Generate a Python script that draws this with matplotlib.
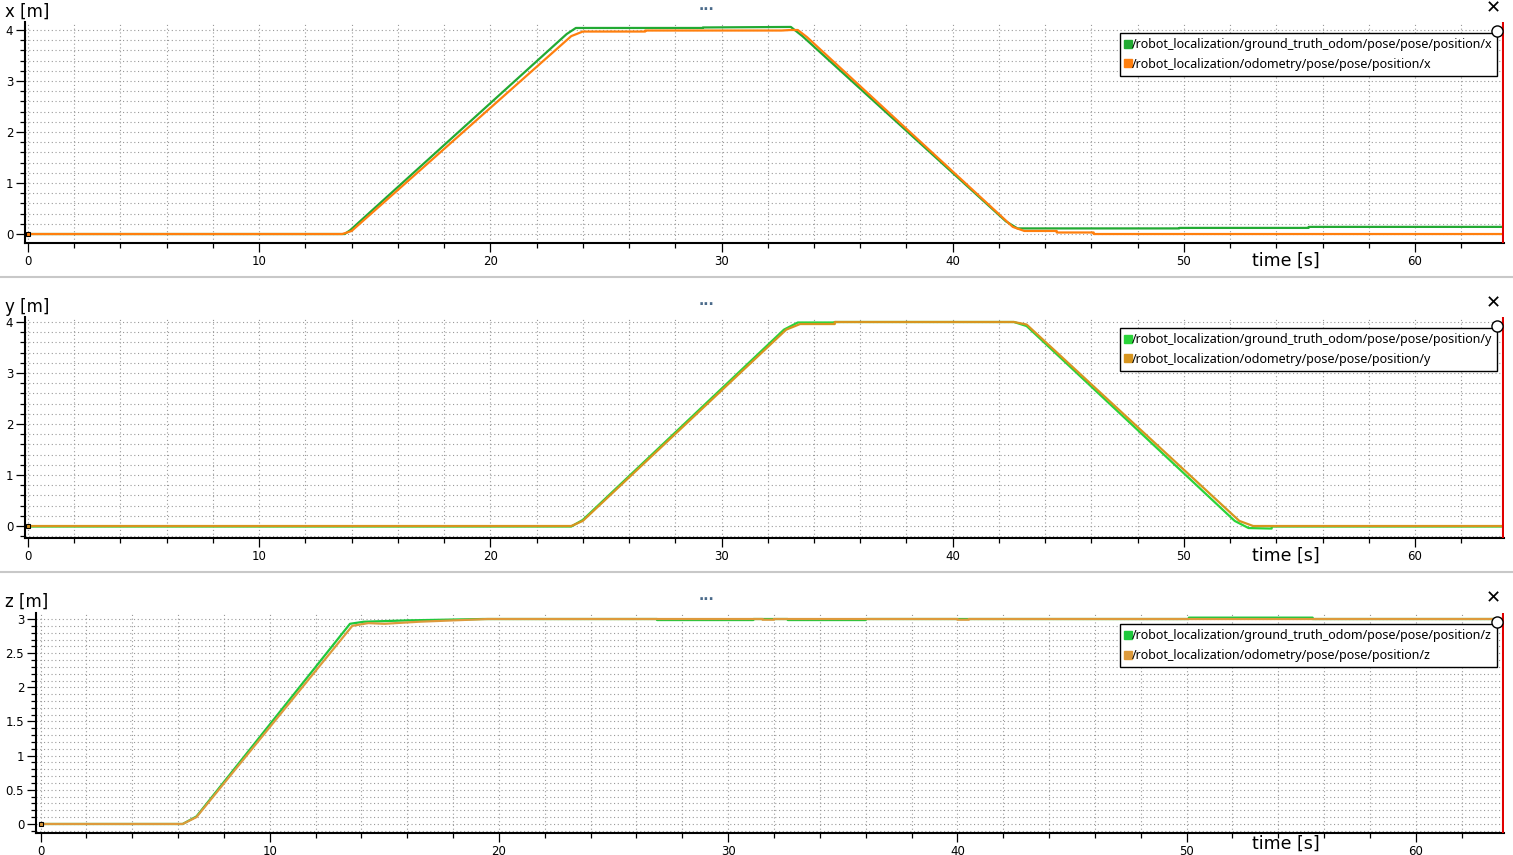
import numpy as np
import matplotlib.pyplot as plt
from matplotlib.lines import Line2D
from matplotlib.ticker import MultipleLocator

plt.rcParams['font.family'] = ['DejaVu Sans']
plt.rcParams['lines.scale_dashes'] = False

W, H = 1513, 855

# ---- data (time [s], position [m]) ----
t_x_gt = [0, 13.7, 13.95, 23.3, 23.7, 29.2, 29.2, 33.0, 33.5, 42.3, 42.8, 49.8, 49.8, 55.4, 55.4, 63.9]
x_gt = [0, 0, 0.08, 3.92, 4.04, 4.04, 4.05, 4.06, 3.88, 0.25, 0.11, 0.11, 0.12, 0.12, 0.14, 0.14]
t_x_od = [0, 13.6, 14.0, 23.5, 24.0, 26.7, 26.7, 32.6, 33.0, 33.3, 33.7, 42.6, 43.1, 44.5, 44.5, 46.1, 46.1, 63.9]
x_od = [0, 0, 0.06, 3.88, 3.97, 3.97, 3.99, 3.99, 4.00, 4.00, 3.86, 0.14, 0.06, 0.06, 0.03, 0.03, 0.0, 0.0]

t_y_gt = [0, 23.5, 24.0, 32.7, 33.3, 34.9, 34.9, 42.65, 43.2, 52.2, 52.8, 53.8, 53.8, 63.9]
y_gt = [-0.01, -0.01, 0.12, 3.85, 3.99, 3.99, 4.00, 4.00, 3.92, 0.10, -0.04, -0.05, -0.01, -0.01]
t_y_od = [0, 23.5, 24.0, 32.8, 33.4, 34.9, 34.9, 42.65, 43.2, 52.4, 53.0, 63.9]
y_od = [0, 0, 0.10, 3.85, 3.96, 3.96, 4.00, 4.00, 3.95, 0.10, 0.0, 0.0]

t_z_gt = [0, 6.2, 6.8, 13.5, 14.1, 16.0, 19.3, 26.9, 26.9, 31.1, 31.1, 32.6, 32.6, 36.0, 36.0,
          50.1, 50.1, 55.5, 55.5, 63.9]
z_gt = [0, 0, 0.11, 2.93, 2.96, 2.98, 3.0, 3.0, 2.985, 2.985, 3.0, 3.0, 2.985, 2.985, 3.0,
        3.0, 3.02, 3.02, 3.0, 3.0]
t_z_od = [0, 6.2, 6.8, 13.6, 14.3, 15.0, 16.5, 19.5, 31.5, 31.5, 32.0, 32.0, 40.0, 40.0, 40.5, 40.5, 63.9]
z_od = [0, 0, 0.10, 2.90, 2.94, 2.93, 2.96, 3.0, 3.0, 2.99, 2.99, 3.0, 3.0, 2.99, 2.99, 3.0, 3.0]

panels = [
    dict(t_gt=t_x_gt, v_gt=x_gt, t_od=t_x_od, v_od=x_od, axis='x',
         rect=(25, 1504, 22, 243), xlim=(-0.13, 63.85), ylim=(-0.176, 4.157),
         major=1, minor=0.2, c_gt='#22aa33', c_od='#ff7f0e', sep=277, top=0, tlab=261),
    dict(t_gt=t_y_gt, v_gt=y_gt, t_od=t_y_od, v_od=y_od, axis='y',
         rect=(25, 1504, 317, 538), xlim=(-0.13, 63.85), ylim=(-0.235, 4.098),
         major=1, minor=0.2, c_gt='#2ad43a', c_od='#d7951f', sep=572, top=295, tlab=556),
    dict(t_gt=t_z_gt, v_gt=z_gt, t_od=t_z_od, v_od=z_od, axis='z',
         rect=(36, 1504, 613, 833), xlim=(-0.2, 63.85), ylim=(-0.132, 3.088),
         major=0.5, minor=0.1, c_gt='#1ec83c', c_od='#dd9a3c', sep=None, top=590, tlab=844),
]

fig = plt.figure(figsize=(W / 100, H / 100), dpi=100)

for p in panels:
    l, r, t, b = p['rect']
    ax = fig.add_axes([l / W, 1 - b / H, (r - l) / W, (b - t) / H])
    ax.plot(p['t_gt'], p['v_gt'], color=p['c_gt'], lw=1.6, zorder=3)
    ax.plot(p['t_od'], p['v_od'], color=p['c_od'], lw=1.6, zorder=3)
    ax.plot([0], [0], 's', ms=3, mfc=p['c_od'], mec='black', mew=0.8, zorder=4)
    ax.axvline(63.8, color='#e00000', lw=1.5, zorder=4)
    ax.set_xlim(*p['xlim'])
    ax.set_ylim(*p['ylim'])

    ax.xaxis.set_major_locator(MultipleLocator(10))
    ax.xaxis.set_minor_locator(MultipleLocator(2))
    ax.yaxis.set_major_locator(MultipleLocator(p['major']))
    ax.yaxis.set_minor_locator(MultipleLocator(p['minor']))
    if p['major'] == 1:
        ax.yaxis.set_major_formatter(lambda v, pos: f'{v:.0f}')
    else:
        ax.yaxis.set_major_formatter(lambda v, pos: f'{v:g}')
    ax.grid(which='both', color='#9a9a9a', lw=0.8, linestyle=(0, (0.8, 1.9)))
    ax.tick_params(which='major', length=6.5, width=0.9, labelsize=8.5, pad=2, colors='black')
    ax.tick_params(which='minor', length=3.5, width=0.9)
    for s in ['top', 'right']:
        ax.spines[s].set_visible(False)
    for s in ['left', 'bottom']:
        ax.spines[s].set_linewidth(1.5)
    ax.set_axisbelow(True)

    handles = [
        Line2D([], [], marker='s', ls='none', ms=6, color=p['c_gt'],
               label=f"/robot_localization/ground_truth_odom/pose/pose/position/{p['axis']}"),
        Line2D([], [], marker='s', ls='none', ms=6, color=p['c_od'],
               label=f"/robot_localization/odometry/pose/pose/position/{p['axis']}"),
    ]
    lx, ly = 1497, t + 11
    leg = ax.legend(handles=handles, loc='upper right',
                    bbox_to_anchor=(lx / W, 1 - ly / H), bbox_transform=fig.transFigure,
                    fancybox=False, framealpha=1, edgecolor='black', borderaxespad=0,
                    prop={'family': 'Noto Sans', 'size': 9.0}, handlelength=0.5,
                    handletextpad=0.05, borderpad=0.4, labelspacing=0.55)
    leg.get_frame().set_linewidth(1.0)
    leg.set_zorder(6)
    ax.plot([lx / W], [1 - (ly - 2) / H], 'o', ms=8, mfc='white', mec='black', mew=1,
            transform=fig.transFigure, clip_on=False, zorder=10)

    # labels and window decorations
    fig.text(5 / W, 1 - (p['top'] + 12) / H, f"{p['axis']} [m]", fontsize=12, va='center', ha='left')
    fig.text(1286 / W, 1 - p['tlab'] / H, 'time [s]', fontsize=12.5, va='center', ha='center')
    fig.text(707 / W, 1 - (p['top'] + 6) / H, '...', fontsize=10, va='center', ha='center',
             color='#4a6a8a', fontweight='bold')
    fig.text(1493 / W, 1 - (p['top'] + 8) / H, '\u2715', fontsize=13, va='center', ha='center')
    if p['sep'] is not None:
        fig.add_artist(Line2D([0, 1], [1 - p['sep'] / H] * 2, color='#c8c8c8', lw=1.5,
                              transform=fig.transFigure))

fig.savefig('out.png', dpi=100)
